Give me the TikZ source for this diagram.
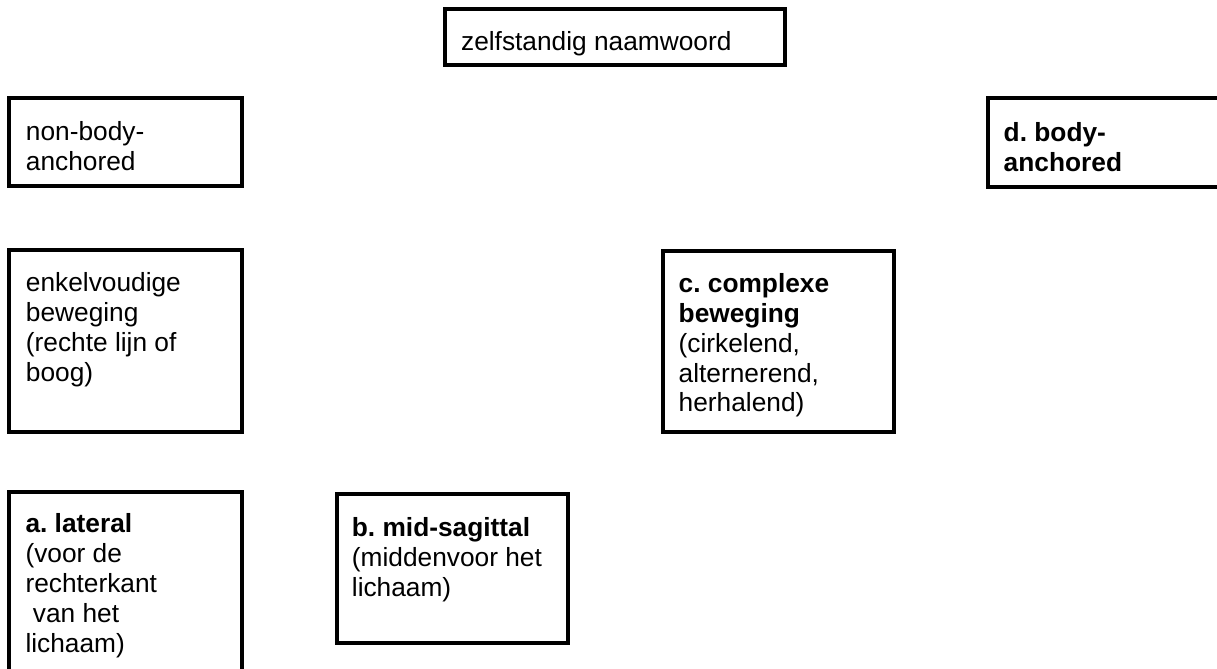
\documentclass[tikz,border=0pt]{standalone}
\usepackage{fontspec}
\setmainfont{Liberation Sans}
\frenchspacing
\usetikzlibrary{positioning,calc}

\begin{document}
\begin{tikzpicture}[x=1cm,y=1cm]
\tikzset{
catbox/.style={draw=black,line width=2.5pt,fill=white,inner sep=0pt},
catlabel/.style={anchor=north west,inner sep=0pt,align=left,text=black,
font=\fontsize{18.7}{21.3}\selectfont}
}
\useasboundingbox (0,0) rectangle (30.425,-16.7);
\clip (0,0) rectangle (30.425,-16.7);

% top
\node[catbox,minimum width=8.5cm,minimum height=1.4cm] (noun) at (15.375,-.925) {};
\node[catlabel] (nounlab) at ($(noun.north west)+(.44,-.6)$) {zelfstandig naamwoord};

% anchoring
\node[catbox,minimum width=5.825cm,minimum height=2.2cm] (nonbody) at (3.1375,-3.55) {};
\node[catlabel] (nonbodylab) at ($(nonbody.north west)+(.46,-.62)$) {non-body-\\anchored};

\node[catbox,minimum width=5.825cm,minimum height=2.225cm] (body) at (27.6125,-3.5625) {};
\node[catlabel] (bodylab) at ($(body.north west)+(.43,-.64)$) {\bfseries d. body-\\\bfseries anchored};

% movement
\node[catbox,minimum width=5.825cm,minimum height=4.55cm] (simple) at (3.1375,-8.525) {};
\node[catlabel] (simplelab) at ($(simple.north west)+(.46,-.59)$) {enkelvoudige\\beweging\\(rechte lijn of\\boog)};

\node[catbox,minimum width=5.775cm,minimum height=4.525cm] (complex) at (19.4625,-8.5375) {};
\node[catlabel] (complexlab) at ($(complex.north west)+(.43,-.59)$) {\bfseries c. complexe\\\bfseries beweging\\(cirkelend,\\alternerend,\\herhalend)};

% location
\node[catbox,minimum width=5.825cm,minimum height=4.55cm] (lateral) at (3.1375,-14.575) {};
\node[catlabel] (laterallab) at ($(lateral.north west)+(.45,-.57)$) {\bfseries a. lateral\\(voor de\\rechterkant\\\hspace*{.28em}van het\\lichaam)};

\node[catbox,minimum width=5.775cm,minimum height=3.725cm] (midsag) at (11.3125,-14.2125) {};
\node[catlabel] (midsaglab) at ($(midsag.north west)+(.41,-.62)$) {\bfseries b. mid-sagittal\\(middenvoor het\\lichaam)};
\end{tikzpicture}
\end{document}
